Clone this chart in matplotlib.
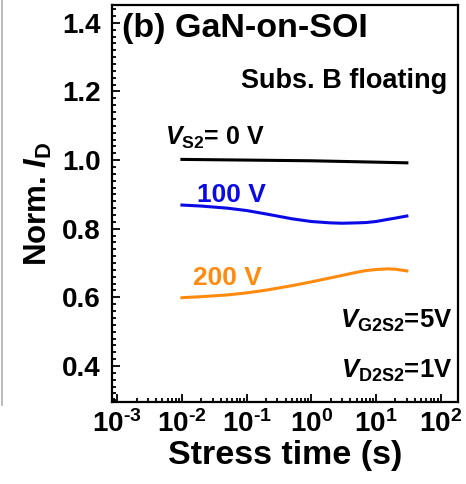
import numpy as np
import matplotlib
matplotlib.use("Agg")
import matplotlib.pyplot as plt
from matplotlib.lines import Line2D
from matplotlib.ticker import MultipleLocator, LogLocator, NullFormatter, FuncFormatter

plt.rcParams['font.family'] = ['Liberation Sans', 'DejaVu Sans']
plt.rcParams['font.weight'] = 'bold'
plt.rcParams['mathtext.fontset'] = 'custom'
plt.rcParams['mathtext.rm'] = 'Liberation Sans:bold'
plt.rcParams['mathtext.it'] = 'Liberation Sans:bold:italic'
plt.rcParams['mathtext.bf'] = 'Liberation Sans:bold'

# data
t_0v = [0.01, 0.1, 1, 10, 30]
id_0v = [1.002, 1.000, 0.998, 0.994, 0.992]

t_100v = [0.01, 0.02, 0.05, 0.1, 0.2, 0.5, 1, 2, 3, 5, 7, 10, 15, 20, 30]
id_100v = [0.869, 0.866, 0.860, 0.853, 0.843, 0.829, 0.821, 0.817, 0.816,
           0.817, 0.818, 0.821, 0.827, 0.831, 0.837]

t_200v = [0.01, 0.02, 0.05, 0.1, 0.2, 0.5, 1, 2, 3, 5, 7, 10, 15, 20, 30]
id_200v = [0.599, 0.602, 0.607, 0.613, 0.621, 0.634, 0.645, 0.657, 0.664,
           0.673, 0.678, 0.681, 0.683, 0.682, 0.677]

BLUE = '#0a0ae6'
ORANGE = '#ff8a10'

fig = plt.figure(figsize=(4.66, 4.84), dpi=100)
ax = fig.add_axes([0.2403, 0.1694, 0.7425, 0.8203])

ax.plot(t_0v, id_0v, color='black', lw=2.2)
ax.plot(t_100v, id_100v, color=BLUE, lw=2.2)
ax.plot(t_200v, id_200v, color=ORANGE, lw=2.2)

ax.set_xscale('log')
ax.set_xlim(8.3e-4, 185)
ax.set_ylim(0.295, 1.452)

ax.yaxis.set_major_locator(MultipleLocator(0.2))
ax.yaxis.set_minor_locator(MultipleLocator(0.02))
ax.yaxis.set_major_formatter(FuncFormatter(lambda v, p: f'{v:.1f}'))
ax.xaxis.set_major_locator(LogLocator(base=10, numticks=10))
ax.xaxis.set_minor_locator(LogLocator(base=10, subs=np.arange(2, 10), numticks=10))
ax.xaxis.set_minor_formatter(NullFormatter())


def log_label(v, p):
    e = int(round(np.log10(v)))
    s = str(e).replace('-', '\u2010')
    return r'$\mathregular{10^{%s}}$' % s


ax.xaxis.set_major_formatter(FuncFormatter(log_label))

ax.tick_params(which='both', direction='in', top=False, right=False,
               labelsize=20, width=1.3)
ax.tick_params(which='major', length=6)
ax.tick_params(which='minor', length=3)
ax.tick_params(axis='x', pad=6)
ax.tick_params(axis='y', pad=8)
for s in ax.spines.values():
    s.set_linewidth(1.6)

ax.set_xlabel('Stress time (s)', fontsize=24.5, fontweight='bold', labelpad=1)
ax.set_ylabel(r'Norm. $\mathit{I}_\mathrm{D}$', fontsize=22.5, fontweight='bold', labelpad=6)

ax.text(0.029, 0.919, '(b) GaN-on-SOI', transform=ax.transAxes, fontsize=24.5,
        fontweight='bold', ha='left', va='baseline')
ax.text(0.968, 0.791, 'Subs. B floating', transform=ax.transAxes, fontsize=19.5,
        fontweight='bold', ha='right', va='baseline')
ax.text(0.153, 0.647, r'$\mathit{V}_{\mathrm{S2}}$= 0 V', transform=ax.transAxes,
        fontsize=18, fontweight='bold', ha='left', va='baseline')
ax.text(0.246, 0.504, '100 V', transform=ax.transAxes, color=BLUE, fontsize=19,
        fontweight='bold', ha='left', va='baseline')
ax.text(0.234, 0.295, '200 V', transform=ax.transAxes, color=ORANGE, fontsize=19,
        fontweight='bold', ha='left', va='baseline')
ax.text(0.985, 0.186, r'$\mathit{V}_{\mathrm{G2S2}}$=5V', transform=ax.transAxes,
        fontsize=18.5, fontweight='bold', ha='right', va='baseline')
ax.text(0.985, 0.060, r'$\mathit{V}_{\mathrm{D2S2}}$=1V', transform=ax.transAxes,
        fontsize=18.5, fontweight='bold', ha='right', va='baseline')

# thin gray border line at the left edge of the image
fig.add_artist(Line2D([0.004, 0.004], [0.163, 1.0], color='#b0b0b0', lw=1.2,
                      transform=fig.transFigure))

fig.savefig('out.png', dpi=100)
